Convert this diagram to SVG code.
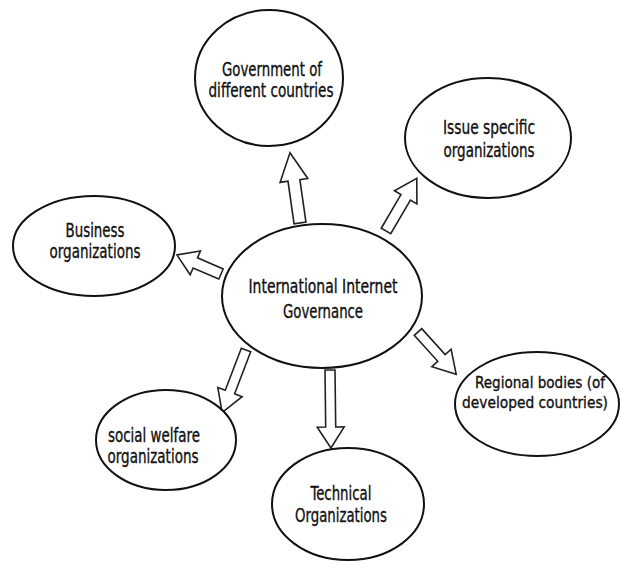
<svg xmlns="http://www.w3.org/2000/svg" width="621" height="561" viewBox="0 0 621 561">
<style>
.n{fill:#fff;stroke:#111;stroke-width:2}
.a{fill:#fff;stroke:#222;stroke-width:1.6;stroke-linejoin:miter}
text{font-family:"DejaVu Sans Condensed","Liberation Sans Narrow","Liberation Sans",sans-serif;font-stretch:condensed;font-size:19px;fill:#111;stroke:#111;stroke-width:0.35;text-anchor:middle}
.s{font-size:16.5px}
</style>
<rect width="621" height="561" fill="#fff"/>
<g id="connectors">
<polygon class="a" transform="translate(300,223) rotate(-98.1)" points="0,-6 43,-6 43,-14 71,0 43,14 43,6 0,6"/>
<polygon class="a" transform="translate(386,231) rotate(-59.7)" points="0,-5.5 39,-5.5 39,-13 61,0 39,13 39,5.5 0,5.5"/>
<polygon class="a" transform="translate(221,274) rotate(-156.6)" points="0,-5.5 28,-5.5 28,-13 48,0 28,13 28,5.5 0,5.5"/>
<polygon class="a" transform="translate(418,332) rotate(47.9)" points="0,-5 35,-5 35,-13 57,0 35,13 35,5 0,5"/>
<polygon class="a" transform="translate(246,350) rotate(110.9)" points="0,-5 45,-5 45,-13 67,0 45,13 45,5 0,5"/>
<polygon class="a" transform="translate(330,370) rotate(89.3)" points="0,-5 57,-5 57,-13.5 78,0 57,13.5 57,5 0,5"/>
</g>
<g id="center">
<ellipse class="n" cx="322" cy="296" rx="100" ry="72"/>
<text x="323" y="293" textLength="149" lengthAdjust="spacingAndGlyphs">International Internet</text>
<text x="323" y="318" textLength="80" lengthAdjust="spacingAndGlyphs">Governance</text>
</g>
<g id="government">
<ellipse class="n" cx="269" cy="78" rx="74" ry="68"/>
<text x="272" y="76" textLength="100" lengthAdjust="spacingAndGlyphs">Government of</text>
<text x="271" y="97" textLength="125" lengthAdjust="spacingAndGlyphs">different countries</text>
</g>
<g id="issue">
<ellipse class="n" cx="488" cy="138" rx="83" ry="60"/>
<text x="489" y="134" textLength="92" lengthAdjust="spacingAndGlyphs">Issue specific</text>
<text x="489" y="157" textLength="91" lengthAdjust="spacingAndGlyphs">organizations</text>
</g>
<g id="business">
<ellipse class="n" cx="94" cy="246" rx="81" ry="50"/>
<text x="95" y="237" textLength="59" lengthAdjust="spacingAndGlyphs">Business</text>
<text x="95" y="258" textLength="91" lengthAdjust="spacingAndGlyphs">organizations</text>
</g>
<g id="regional">
<ellipse class="n" cx="537" cy="404" rx="82" ry="52"/>
<text class="s" x="540" y="388" textLength="130" lengthAdjust="spacingAndGlyphs">Regional bodies (of</text>
<text class="s" x="535" y="408" textLength="146" lengthAdjust="spacingAndGlyphs">developed countries)</text>
</g>
<g id="social">
<ellipse class="n" cx="166" cy="440" rx="70" ry="50"/>
<text x="154" y="442" textLength="92" lengthAdjust="spacingAndGlyphs">social welfare</text>
<text x="153" y="463" textLength="91" lengthAdjust="spacingAndGlyphs">organizations</text>
</g>
<g id="technical">
<ellipse class="n" cx="348" cy="504" rx="76" ry="56"/>
<text x="341" y="500" textLength="61" lengthAdjust="spacingAndGlyphs">Technical</text>
<text x="341" y="522" textLength="92" lengthAdjust="spacingAndGlyphs">Organizations</text>
</g>
</svg>
